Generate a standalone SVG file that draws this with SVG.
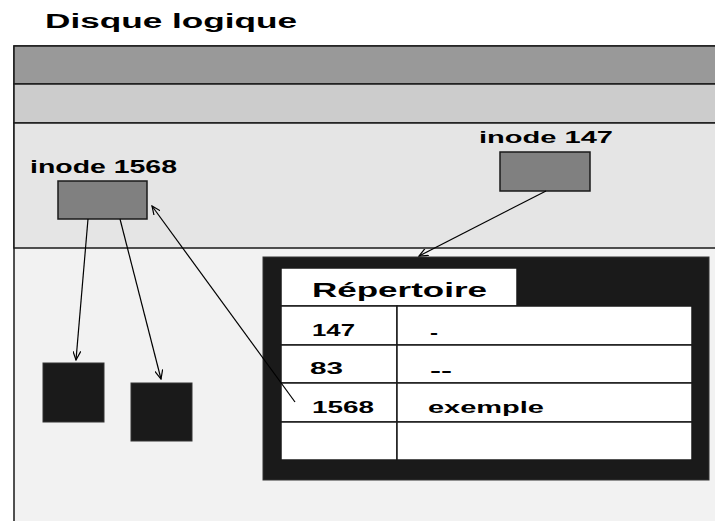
<svg xmlns="http://www.w3.org/2000/svg" width="715" height="521" viewBox="0 0 715 521">
<style>
text{font-family:"Liberation Sans",Arial,sans-serif;font-weight:bold;fill:#000}
.band{stroke:#1a1a1a;stroke-width:1.5}
.inode{fill:#808080;stroke:#1a1a1a;stroke-width:1.5}
.blk{fill:#1a1a1a;stroke:#333;stroke-width:1}
.cell{fill:#fff;stroke:#1a1a1a;stroke-width:1.5}
.edge{fill:none;stroke:#000;stroke-width:1.2}
</style>
<defs>
<marker id="ah" viewBox="0 0 10 8" refX="9" refY="4" markerWidth="10" markerHeight="8" markerUnits="userSpaceOnUse" orient="auto">
<path d="M0,0 L9,4 L0,8" fill="none" stroke="#000" stroke-width="1.2"/>
</marker>
</defs>
<rect width="715" height="521" fill="#fff"/>
<text x="45" y="28" font-size="20" textLength="252" lengthAdjust="spacingAndGlyphs">Disque logique</text>
<g id="disk">
<rect x="14" y="46" width="710" height="490" fill="#f2f2f2" class="band"/>
<rect x="14" y="46" width="710" height="38" fill="#999" class="band"/>
<rect x="14" y="84" width="710" height="39" fill="#ccc" class="band"/>
<rect x="14" y="123" width="710" height="125" fill="#e5e5e5" class="band"/>
</g>
<g id="inode1568">
<text x="30" y="173" font-size="18" textLength="147" lengthAdjust="spacingAndGlyphs">inode 1568</text>
<rect x="58" y="181" width="89" height="38" class="inode"/>
</g>
<g id="inode147">
<text x="479" y="143" font-size="17" textLength="134" lengthAdjust="spacingAndGlyphs">inode 147</text>
<rect x="500" y="152" width="90" height="39" class="inode"/>
</g>
<g id="block1"><rect x="43" y="363" width="61" height="59" class="blk"/></g>
<g id="block2"><rect x="131" y="383" width="61" height="58" class="blk"/></g>
<g id="repertoire">
<rect x="263" y="257" width="446" height="223" fill="#1a1a1a" stroke="#333"/>
<rect x="281" y="268" width="236" height="38" class="cell"/>
<text x="312" y="297" font-size="21" textLength="175" lengthAdjust="spacingAndGlyphs">Répertoire</text>
<rect x="281" y="306" width="116" height="39" class="cell"/>
<rect x="397" y="306" width="295" height="39" class="cell"/>
<rect x="281" y="345" width="116" height="38" class="cell"/>
<rect x="397" y="345" width="295" height="38" class="cell"/>
<rect x="281" y="383" width="116" height="39" class="cell"/>
<rect x="397" y="383" width="295" height="39" class="cell"/>
<rect x="281" y="422" width="116" height="38" class="cell"/>
<rect x="397" y="422" width="295" height="38" class="cell"/>
<text x="312" y="336" font-size="16" textLength="43" lengthAdjust="spacingAndGlyphs">147</text>
<text x="430" y="338" font-size="16" textLength="8" lengthAdjust="spacingAndGlyphs">-</text>
<text x="310" y="374" font-size="16" textLength="33" lengthAdjust="spacingAndGlyphs">83</text>
<text x="430" y="376" font-size="16" textLength="22" lengthAdjust="spacingAndGlyphs">--</text>
<text x="312" y="413" font-size="16" textLength="62" lengthAdjust="spacingAndGlyphs">1568</text>
<text x="428" y="413" font-size="16" textLength="116" lengthAdjust="spacingAndGlyphs">exemple</text>
</g>
<g id="connectors">
<path class="edge" d="M88,219 L76,360" marker-end="url(#ah)"/>
<path class="edge" d="M120,219 L161,379" marker-end="url(#ah)"/>
<path class="edge" d="M295,402 L152,206" marker-end="url(#ah)"/>
<path class="edge" d="M546,191 L419,256" marker-end="url(#ah)"/>
</g>
</svg>
